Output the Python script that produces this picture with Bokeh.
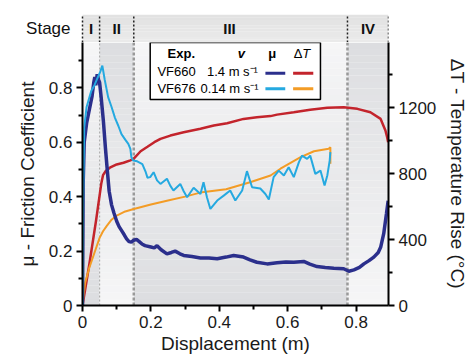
from bokeh.plotting import figure
from bokeh.layouts import column
from bokeh.models import Range1d, LinearAxis, FixedTicker
from bokeh.core.properties import value
from bokeh.embed import file_html
from bokeh.resources import INLINE

# ---------------- data ----------------
# VF660, v = 1.4 m/s : friction coefficient
d660_mu = [0, 0.002, 0.005, 0.012, 0.02, 0.028, 0.033, 0.036, 0.039, 0.043, 0.047, 0.05, 0.055,
           0.061, 0.067, 0.073, 0.078, 0.085, 0.092, 0.1, 0.107, 0.114, 0.122, 0.129, 0.136, 0.143,
           0.15, 0.158, 0.166, 0.175, 0.183, 0.2, 0.21, 0.218, 0.23, 0.247, 0.26, 0.271, 0.285,
           0.296, 0.32, 0.345, 0.37, 0.394, 0.42, 0.442, 0.471, 0.49, 0.51, 0.54, 0.569, 0.595,
           0.618, 0.647, 0.665, 0.686, 0.71, 0.735, 0.764, 0.779, 0.794, 0.81, 0.823, 0.838,
           0.852, 0.865, 0.872, 0.881, 0.889, 0.894]
mu660 = [0, 0.45, 0.6, 0.67, 0.72, 0.77, 0.82, 0.84, 0.81, 0.85, 0.83, 0.82, 0.76,
         0.68, 0.58, 0.49, 0.42, 0.37, 0.34, 0.31, 0.29, 0.276, 0.26, 0.245, 0.235, 0.233,
         0.24, 0.243, 0.235, 0.225, 0.22, 0.215, 0.212, 0.22, 0.205, 0.19, 0.195, 0.2, 0.19,
         0.184, 0.18, 0.175, 0.175, 0.172, 0.178, 0.184, 0.178, 0.168, 0.159, 0.153, 0.157, 0.16,
         0.159, 0.162, 0.152, 0.143, 0.14, 0.137, 0.135, 0.126, 0.131, 0.14, 0.153, 0.165,
         0.178, 0.195, 0.214, 0.264, 0.337, 0.385]

# VF676, v = 0.14 m/s : friction coefficient
d676_mu = [0, 0.002, 0.005, 0.012, 0.02, 0.026, 0.035, 0.045, 0.052, 0.058, 0.065, 0.075, 0.085,
           0.095, 0.105, 0.114, 0.125, 0.134, 0.14, 0.143, 0.148, 0.16, 0.175, 0.185, 0.19, 0.198,
           0.208, 0.218, 0.228, 0.247, 0.257, 0.266, 0.286, 0.296, 0.306, 0.325, 0.345, 0.354,
           0.364, 0.374, 0.394, 0.413, 0.432, 0.447, 0.467, 0.481, 0.496, 0.52, 0.535, 0.545,
           0.559, 0.574, 0.589, 0.603, 0.618, 0.633, 0.642, 0.657, 0.666, 0.681, 0.696, 0.708,
           0.716, 0.723, 0.725]
mu676 = [0, 0.4, 0.655, 0.73, 0.765, 0.79, 0.81, 0.84, 0.86, 0.882, 0.83, 0.766, 0.73,
         0.69, 0.66, 0.63, 0.61, 0.594, 0.576, 0.545, 0.533, 0.53, 0.52, 0.49, 0.47, 0.472,
         0.49, 0.46, 0.447, 0.466, 0.44, 0.423, 0.447, 0.42, 0.398, 0.433, 0.41, 0.453,
         0.398, 0.355, 0.386, 0.404, 0.423, 0.386, 0.423, 0.494, 0.435, 0.43, 0.41, 0.39,
         0.472, 0.496, 0.478, 0.508, 0.472, 0.527, 0.551, 0.539, 0.551, 0.484, 0.496, 0.441,
         0.478, 0.533, 0.564]

# VF660 : temperature rise (deg C)
d660_T = [0, 0.02, 0.04, 0.055, 0.06, 0.068, 0.08, 0.1, 0.12, 0.14, 0.15, 0.17, 0.19, 0.21,
          0.228, 0.257, 0.296, 0.345, 0.384, 0.423, 0.471, 0.51, 0.55, 0.569, 0.618, 0.666,
          0.716, 0.764, 0.804, 0.842, 0.872, 0.886, 0.891, 0.894]
T660 = [0, 250, 520, 740, 790, 815, 835, 855, 865, 880, 890, 935, 962, 990,
        1010, 1030, 1050, 1071, 1091, 1105, 1131, 1141, 1148, 1157, 1171, 1186,
        1198, 1202, 1192, 1171, 1131, 1061, 1020, 990]

# VF676 : temperature rise (deg C)
d676_T = [0, 0.003, 0.008, 0.02, 0.035, 0.05, 0.06, 0.07, 0.085, 0.1, 0.125, 0.15, 0.2, 0.25,
          0.3, 0.35, 0.42, 0.49, 0.55, 0.579, 0.638, 0.677, 0.72, 0.725, 0.725]
T676 = [0, 60, 140, 230, 320, 410, 450, 480, 520, 545, 570, 585, 612, 636,
        660, 687, 705, 747, 788, 829, 899, 935, 950, 959, 859]

stage_edges = [0, 0.05, 0.15, 0.775, 0.895]
stage_names = ["I", "II", "III", "IV"]
stage_label_x = [0.025, 0.1, 0.43, 0.835]

mu_ticks = [0, 0.2, 0.4, 0.6, 0.8]
mu_minor = [0.1, 0.3, 0.5, 0.7, 0.9]
x_ticks = [0, 0.2, 0.4, 0.6, 0.8]
x_minor = [0.1, 0.3, 0.5, 0.7]
T_ticks = [0, 400, 800, 1200]
T_minor = [200, 600, 1000, 1400]

exp_names = ["VF660", "VF676"]
exp_speeds = ["1.4 m s\u207b\u00b9", "0.14 m s\u207b\u00b9"]

# ---------------- layout / style constants ----------------
X_MAX = 0.895
MU_TOP = 0.967
T_PER_MU = 1648.5
FONT = "Liberation Sans"
FW = 306                      # frame width of the plot
PX_PER_M = FW / X_MAX
LEFT = 82
RIGHT = 73
HEAD_H = 28

C_MU660 = "#2b2f8c"
C_MU676 = "#25a9e0"
C_T660 = "#c3242c"
C_T676 = "#f39c26"


def hex2rgb(hx):
    hx = hx.lstrip("#")
    return [int(hx[i:i + 2], 16) for i in (0, 2, 4)]


def mix(c1, c2, t):
    a, b = hex2rgb(c1), hex2rgb(c2)
    return "#%02x%02x%02x" % tuple(int(round(a[i] + (b[i] - a[i]) * t)) for i in range(3))


# ---------------- header (stage band) ----------------
h = figure(frame_width=LEFT + FW, frame_height=HEAD_H,
           x_range=Range1d(-LEFT / PX_PER_M, X_MAX), y_range=Range1d(0, 1),
           x_axis_location=None, y_axis_location=None,
           output_backend="svg", toolbar_location=None,
           min_border_left=0, min_border_right=RIGHT, min_border_top=14, min_border_bottom=0)
h.frame_align = False
h.grid.visible = False
h.outline_line_color = None
NH = 10
hl, hr, hb, ht, hc = [], [], [], [], []
for i in range(NH):
    t = (i + 0.5) / NH
    hl.append(0); hr.append(X_MAX); hb.append(i / NH); ht.append((i + 1) / NH)
    hc.append(mix("#ebebeb", "#e1e1e1", t))
h.quad(left=hl, right=hr, bottom=hb, top=ht, fill_color=hc, line_color=None)
h.segment(x0=stage_edges, y0=[0] * 5, x1=stage_edges, y1=[1] * 5, line_color="#222222",
          line_width=1.5, line_dash="2 2")
h.text(x=stage_label_x, y=[0.5] * 4, text=stage_names, text_font=value(FONT),
       text_font_style="bold", text_font_size="15px", text_align="center",
       text_baseline="middle", text_color="#111111")
h.text(x=[-12 / PX_PER_M], y=[0.5], text=["Stage"], text_font=value(FONT),
       text_font_size="17px", text_align="right", text_baseline="middle", text_color="#111111")

# ---------------- main plot ----------------
p = figure(frame_width=FW, frame_height=263,
           x_range=Range1d(0, X_MAX), y_range=Range1d(0, MU_TOP),
           output_backend="svg", toolbar_location=None,
           min_border_left=LEFT, min_border_right=RIGHT, min_border_top=0, min_border_bottom=40)
p.frame_align = False
p.extra_y_ranges = {"T": Range1d(0, MU_TOP * T_PER_MU)}
p.grid.visible = False
p.outline_line_color = None

LIGHT = "#f6f6f7"
DARK = "#dcdde0"
N = 40
L, R, B, Tp, C = [], [], [], [], []
for k in range(4):
    x0, x1 = stage_edges[k], stage_edges[k + 1]
    for i in range(N):
        t = (i + 0.5) / N  # 0 bottom -> 1 top
        col = mix(DARK, LIGHT, t) if k in (0, 2) else mix(LIGHT, DARK, t)
        L.append(x0); R.append(x1); B.append(MU_TOP * i / N); Tp.append(MU_TOP * (i + 1) / N)
        C.append(col)
p.quad(left=L, right=R, bottom=B, top=Tp, fill_color=C, line_color=None)

p.segment(x0=[stage_edges[1]], y0=[0], x1=[stage_edges[1]], y1=[MU_TOP],
          line_color="#b0b0b0", line_width=1.2, line_dash="2 2")
p.segment(x0=stage_edges[2:4], y0=[0, 0], x1=stage_edges[2:4], y1=[MU_TOP, MU_TOP],
          line_color="#999999", line_width=2.5, line_dash="3 2")

p.line(d660_T, T660, y_range_name="T", line_color=C_T660, line_width=2.5)
p.line(d676_T, T676, y_range_name="T", line_color=C_T676, line_width=2)
p.line(d660_mu, mu660, line_color=C_MU660, line_width=3.5)
p.line(d676_mu, mu676, line_color=C_MU676, line_width=2)

# legend box
p.quad(left=[0.198], right=[0.696], bottom=[0.757], top=[MU_TOP], fill_color="white",
       line_color="black", line_width=1.5)
hdr_y = 0.926
rows_y = [0.860, 0.798]
for txt, xx, style in [("Exp.", 0.289, "bold"), ("v", 0.465, "bold italic"), ("\u03bc", 0.555, "bold")]:
    p.text(x=[xx], y=[hdr_y], text=[txt], text_font=value(FONT), text_font_style=style,
           text_font_size="13px", text_align="center", text_baseline="middle", text_color="black")
p.text(x=[0.643], y=[hdr_y], text=["\u0394"], text_font=value(FONT), text_font_size="13px",
       text_align="right", text_baseline="middle", text_color="black")
p.text(x=[0.643], y=[hdr_y], text=["T"], text_font=value(FONT), text_font_style="italic",
       text_font_size="13px", text_align="left", text_baseline="middle", text_color="black")
p.text(x=[0.219, 0.219], y=rows_y, text=exp_names, text_font=value(FONT), text_font_size="13px",
       text_align="left", text_baseline="middle", text_color="black")
p.text(x=[0.364, 0.345], y=rows_y, text=exp_speeds, text_font=value(FONT), text_font_size="13px",
       text_align="left", text_baseline="middle", text_color="black")
sw_y = [rows_y[0] - 0.006, rows_y[1] - 0.001]
p.segment(x0=[0.535, 0.535], y0=sw_y, x1=[0.593, 0.593], y1=sw_y,
          line_color=[C_MU660, C_MU676], line_width=3)
p.segment(x0=[0.616, 0.616], y0=sw_y, x1=[0.675, 0.675], y1=sw_y,
          line_color=[C_T660, C_T676], line_width=3)

# axes
p.xaxis.ticker = FixedTicker(ticks=x_ticks, minor_ticks=x_minor)
p.xaxis.major_label_overrides = {v: ("0" if v == 0 else ("%g" % v)) for v in x_ticks}
p.xaxis.axis_label = "Displacement (m)"
p.yaxis.ticker = FixedTicker(ticks=mu_ticks, minor_ticks=mu_minor)
p.yaxis.major_label_overrides = {v: ("0" if v == 0 else ("%g" % v)) for v in mu_ticks}
p.yaxis.axis_label = "\u03bc - Friction Coefficient"

raxis = LinearAxis(y_range_name="T", ticker=FixedTicker(ticks=T_ticks, minor_ticks=T_minor),
                   axis_label="\u0394T - Temperature Rise (\u00b0C)")
p.add_layout(raxis, "right")

for ax in [p.xaxis[0], p.yaxis[0], raxis]:
    ax.axis_line_width = 2
    ax.axis_line_color = "black"
    ax.major_tick_line_width = 2
    ax.minor_tick_line_width = 2
    ax.major_tick_line_color = "black"
    ax.minor_tick_line_color = "black"
    ax.major_tick_out = 6
    ax.major_tick_in = 0
    ax.minor_tick_out = 4
    ax.minor_tick_in = 0
    ax.major_label_text_font = FONT
    ax.major_label_text_font_size = "17px"
    ax.major_label_text_color = "#1a1a1a"
    ax.major_label_standoff = 4
    ax.axis_label_text_font = FONT
    ax.axis_label_text_font_size = "19px"
    ax.axis_label_text_font_style = "normal"
    ax.axis_label_text_color = "#1a1a1a"
    ax.axis_label_standoff = 8
p.xaxis.axis_label_standoff = 2

layout = column(h, p, spacing=0)
open("out.html", "w").write(file_html(layout, INLINE))
